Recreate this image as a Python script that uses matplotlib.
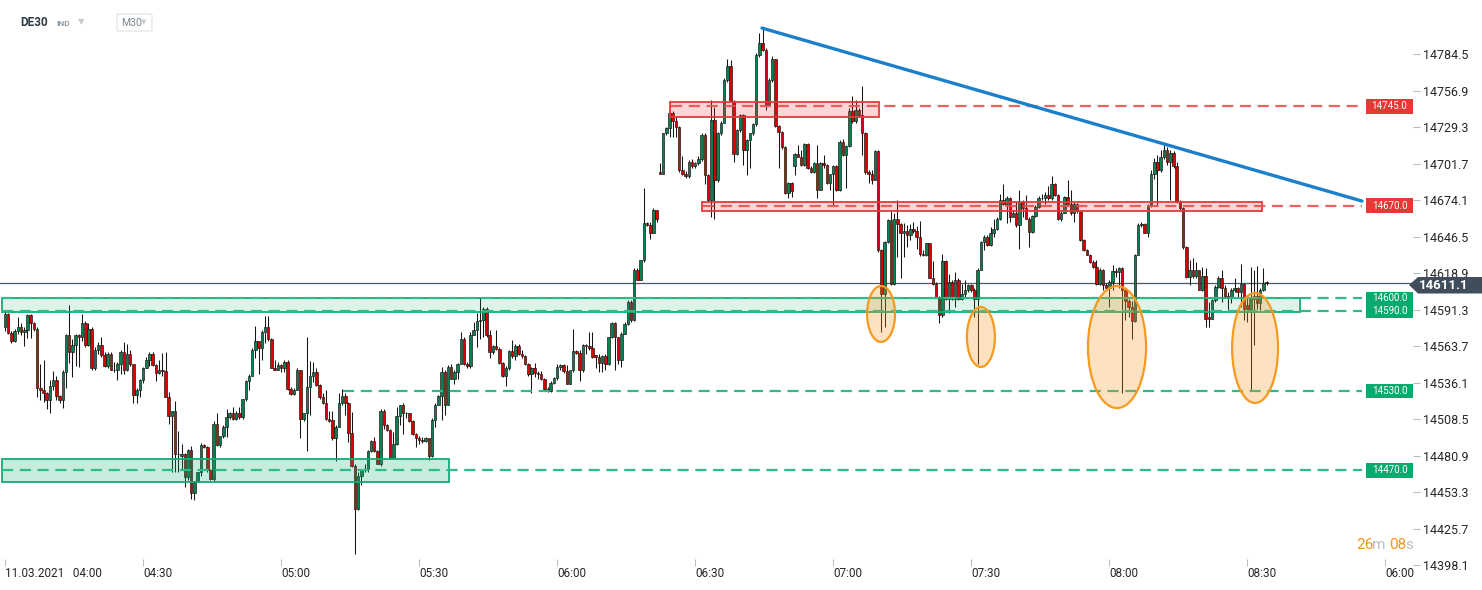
import matplotlib
matplotlib.use("Agg")
import matplotlib.pyplot as plt
import matplotlib.transforms as mtransforms
from matplotlib.patches import Rectangle, Ellipse, Polygon, FancyBboxPatch
import numpy as np

plt.rcParams['font.family'] = ['Roboto', 'DejaVu Sans']

# ---------------- data ----------------
opens = [
    14578, 14588, 14574, 14568, 14575, 14578, 14574.5, 14576, 14587, 14581,
    14577, 14532.5, 14530.5, 14528, 14523, 14533.5, 14538.5, 14526, 14523, 14544,
    14572.5, 14559.5, 14564.5, 14572.5, 14571, 14581.5, 14565, 14577, 14547.5, 14560.5,
    14565, 14557, 14548.5, 14557.5, 14546, 14545.5, 14550, 14559, 14546, 14557.5,
    14550, 14527, 14531, 14538, 14547.5, 14553, 14557.5, 14549.5, 14543.5, 14546,
    14545, 14525.5, 14511, 14514.5, 14482, 14481, 14482.5, 14465, 14485.5, 14453,
    14461.5, 14468.5, 14489, 14487.5, 14470, 14463.5, 14505, 14489, 14495.5, 14503,
    14510, 14513.5, 14509, 14513.5, 14510, 14523.5, 14537.5, 14541.5, 14560.5, 14567.5,
    14562, 14574.5, 14578, 14569.5, 14547.5, 14546, 14549.5, 14547, 14552, 14531.5,
    14527.5, 14531, 14545.5, 14509, 14513, 14533, 14541.5, 14544.5, 14534.5, 14525.5,
    14521, 14509, 14508, 14494, 14503, 14520.5, 14526, 14520.5, 14498, 14473.5,
    14441, 14466, 14470, 14471, 14484.5, 14492, 14484.5, 14475, 14515, 14504,
    14500.5, 14479, 14489.5, 14511, 14519, 14513.5, 14513, 14507, 14497.5, 14494,
    14493, 14492, 14494, 14480.5, 14508, 14519.5, 14526, 14544.5, 14519, 14548,
    14539, 14544.5, 14550, 14569.5, 14550, 14548.5, 14572.5, 14576, 14583, 14583.5,
    14592, 14572, 14559.5, 14564, 14561.5, 14551, 14541.5, 14547.5, 14560, 14556,
    14564, 14557.5, 14556, 14550, 14542.5, 14547, 14543.5, 14542.5, 14539, 14531.5,
    14530, 14536, 14540, 14548, 14549.5, 14545, 14535.5, 14545.5, 14560, 14558.5,
    14545.5, 14565, 14564, 14562.5, 14557, 14555.5, 14551, 14556, 14550, 14570.5,
    14581.5, 14570.5, 14553, 14573, 14580.5, 14597, 14583.5, 14621.5, 14614, 14628.5,
    14657, 14655.5, 14649.5, 14667, 14695.5, 14694, 14724.5, 14728.5, 14740, 14733.5,
    14729, 14697, 14693.5, 14692, 14703, 14699.5, 14702, 14705, 14723, 14693,
    14674, 14734.5, 14689.5, 14724.5, 14732.5, 14765, 14775.5, 14749, 14709, 14727,
    14738.5, 14712, 14719.5, 14724.5, 14731.5, 14783.5, 14792.5, 14787.5, 14746, 14765,
    14780.5, 14730, 14725.5, 14714, 14679.5, 14687, 14699.5, 14709, 14707, 14700.5,
    14716.5, 14698, 14695.5, 14702.5, 14682, 14702, 14700.5, 14687, 14693.5, 14700,
    14681.5, 14718, 14708, 14715, 14741.5, 14733.5, 14742.5, 14738.5, 14724.5, 14695.5,
    14693.5, 14689.5, 14711, 14636.5, 14603, 14642.5, 14659, 14611, 14659.5, 14656,
    14649, 14651, 14647.5, 14652, 14651, 14646.5, 14633.5, 14632.5, 14641.5, 14615.5,
    14611, 14601, 14587, 14628, 14599.5, 14612.5, 14599.5, 14613.5, 14599.5, 14603,
    14606, 14610, 14606, 14599.5, 14621.5, 14642.5, 14646.5, 14640, 14649, 14652.5,
    14660, 14674.5, 14671.5, 14675.5, 14661.5, 14664.5, 14655, 14673, 14668, 14660,
    14650, 14662, 14669, 14676, 14675.5, 14678, 14676, 14686, 14678, 14659.5,
    14664.5, 14676.5, 14671, 14664.5, 14671.5, 14665.5, 14644, 14636.5, 14633, 14627.5,
    14623.5, 14610.5, 14621.5, 14610, 14607.5, 14612.5, 14620.5, 14620, 14623, 14606,
    14598, 14593.5, 14583, 14633, 14655, 14656, 14649.5, 14670.5, 14693.5, 14703,
    14697, 14707, 14712, 14703, 14710, 14700, 14673, 14668.5, 14638.5, 14616,
    14621, 14616.5, 14621, 14606.5, 14616.5, 14585.5, 14584.5, 14598.5, 14608.5, 14615.5,
    14607.5, 14601.5, 14600.5, 14606, 14607.5, 14604.5, 14610.5, 14594.5, 14591.5, 14599.5,
    14601.5, 14596, 14606, 14612,
]
highs = [
    14590, 14589, 14575, 14577, 14586, 14581, 14578, 14588, 14588, 14582,
    14578, 14550, 14553.5, 14529, 14538, 14545, 14541, 14527, 14545.5, 14573,
    14595, 14569.5, 14573, 14573, 14588, 14583, 14581, 14578, 14563, 14567,
    14571, 14559, 14559, 14559.5, 14552, 14552, 14560.5, 14567, 14565.5, 14560.5,
    14550.5, 14532, 14539, 14548, 14555.5, 14559, 14559, 14550.5, 14553, 14558.5,
    14559, 14529, 14515, 14522.5, 14500, 14490, 14483, 14486, 14488.5, 14462,
    14469, 14490.5, 14490, 14488, 14471, 14507.5, 14513.5, 14496, 14504, 14516.5,
    14514, 14517.5, 14515, 14518, 14524, 14538.5, 14543, 14562.5, 14579, 14568,
    14576, 14586.5, 14586.5, 14570, 14553, 14552, 14550.5, 14553.5, 14553, 14533,
    14532, 14547, 14546, 14513.5, 14571, 14552.5, 14552, 14547, 14535.5, 14528,
    14531, 14514.5, 14515, 14504.5, 14528, 14531.5, 14528, 14521.5, 14514, 14474.5,
    14468.5, 14471, 14475, 14485.5, 14492.5, 14495, 14485, 14516.5, 14516, 14505,
    14501, 14499, 14518, 14519.5, 14520.5, 14514, 14513.5, 14508, 14498, 14496,
    14495, 14495, 14494.5, 14509.5, 14520.5, 14526.5, 14548, 14545.5, 14549.5, 14550,
    14545.5, 14551, 14574.5, 14571, 14552, 14574.5, 14582, 14589, 14600.5, 14593.5,
    14593, 14576, 14565, 14576, 14563, 14552, 14548.5, 14560.5, 14568.5, 14565.5,
    14565.5, 14560.5, 14557, 14551, 14548, 14551, 14545, 14545, 14540, 14533,
    14537.5, 14540.5, 14550.5, 14550.5, 14550.5, 14549.5, 14546, 14576.5, 14561, 14560.5,
    14565.5, 14565.5, 14574.5, 14574.5, 14557, 14558, 14557, 14558, 14571, 14582,
    14582, 14571, 14574.5, 14582, 14599, 14598.5, 14623, 14622.5, 14629, 14683,
    14657.5, 14657.5, 14668.5, 14667, 14702.5, 14725, 14729.5, 14742.5, 14741.5, 14737,
    14730, 14707.5, 14696, 14704.5, 14705, 14703, 14707.5, 14724.5, 14724.5, 14694,
    14749.5, 14744.5, 14725.5, 14733.5, 14766, 14781, 14780, 14750, 14727.5, 14739,
    14739.5, 14720.5, 14725, 14732, 14785, 14800.5, 14804, 14789, 14766, 14783,
    14781, 14731, 14726.5, 14715, 14688, 14688, 14709.5, 14715.5, 14712, 14717.5,
    14717, 14700, 14703, 14715.5, 14703, 14708, 14701.5, 14694, 14700.5, 14700.5,
    14719.5, 14720.5, 14715.5, 14743.5, 14752.5, 14749.5, 14744, 14760, 14725.5, 14697,
    14697, 14712, 14712, 14637.5, 14643, 14659.5, 14665.5, 14664.5, 14674.5, 14656.5,
    14657, 14655, 14656, 14657.5, 14654.5, 14658.5, 14636.5, 14642, 14642, 14628,
    14612, 14601.5, 14633.5, 14628.5, 14618.5, 14613.5, 14620, 14615, 14611, 14614,
    14611, 14611, 14608, 14622.5, 14643.5, 14647.5, 14647.5, 14654, 14660, 14661.5,
    14679, 14686, 14677, 14676.5, 14666.5, 14673, 14682, 14674, 14678, 14661,
    14662.5, 14670.5, 14677, 14678.5, 14680.5, 14684.5, 14692, 14687, 14679, 14666.5,
    14677, 14689.5, 14681.5, 14673, 14672, 14666, 14645, 14637.5, 14633.5, 14629,
    14628.5, 14622.5, 14622, 14611.5, 14613.5, 14625, 14623, 14623.5, 14623.5, 14607.5,
    14599.5, 14598, 14633.5, 14656.5, 14657.5, 14657, 14671.5, 14697, 14706, 14708,
    14712, 14717, 14714, 14712, 14711, 14703, 14674, 14669, 14639.5, 14628.5,
    14630, 14627.5, 14621.5, 14623.5, 14622.5, 14597, 14599.5, 14610, 14616.5, 14621,
    14610, 14604.5, 14607.5, 14615, 14608.5, 14626, 14611.5, 14601, 14623.5, 14621,
    14624, 14607.5, 14622.5, 14613,
]
lows = [
    14575, 14573, 14566, 14567, 14573, 14572, 14564, 14570, 14570, 14575,
    14525.5, 14523, 14521.5, 14516, 14513, 14530.5, 14523, 14521, 14517, 14532,
    14551, 14540.5, 14548.5, 14548, 14568, 14563, 14564, 14546, 14546, 14558,
    14555.5, 14548, 14547, 14545.5, 14544, 14538.5, 14543, 14542.5, 14545, 14549,
    14520.5, 14520.5, 14525, 14536, 14547, 14548.5, 14548.5, 14537.5, 14543, 14541,
    14525, 14505, 14468.5, 14468.5, 14468.5, 14470, 14457.5, 14462.5, 14448.5, 14447.5,
    14461, 14465.5, 14487, 14468.5, 14463, 14462, 14488.5, 14487.5, 14494.5, 14495,
    14509, 14508, 14508, 14509, 14509, 14522.5, 14530.5, 14541, 14554.5, 14543,
    14553, 14566, 14568, 14547, 14545.5, 14545.5, 14544, 14544, 14531, 14526.5,
    14526.5, 14530.5, 14494.5, 14507.5, 14484.5, 14512, 14536.5, 14534, 14523.5, 14520,
    14508, 14506.5, 14492.5, 14477, 14502.5, 14519, 14512, 14491.5, 14472.5, 14407,
    14440, 14458.5, 14469, 14469, 14484, 14484, 14474.5, 14473.5, 14501.5, 14500,
    14478.5, 14478.5, 14489, 14504, 14497.5, 14509.5, 14506.5, 14497, 14487.5, 14490,
    14490.5, 14491.5, 14477.5, 14480, 14503, 14519, 14508, 14511.5, 14519, 14539,
    14535, 14539, 14550, 14549.5, 14547.5, 14547, 14572, 14563, 14569.5, 14570.5,
    14571, 14554.5, 14558, 14561, 14550.5, 14540.5, 14534, 14546, 14555, 14553,
    14557, 14554.5, 14549.5, 14541.5, 14528.5, 14540.5, 14539, 14538.5, 14531, 14529,
    14529, 14535.5, 14538, 14545.5, 14543.5, 14535, 14535, 14544.5, 14558, 14537.5,
    14544.5, 14558, 14560.5, 14555, 14547, 14544.5, 14544.5, 14545.5, 14549.5, 14570,
    14545.5, 14550, 14548, 14573, 14579.5, 14582, 14583, 14613.5, 14613.5, 14627.5,
    14654.5, 14645, 14649, 14657.5, 14694, 14694, 14723, 14721.5, 14722, 14721.5,
    14695.5, 14693, 14690.5, 14690.5, 14698, 14698, 14701, 14704, 14686.5, 14672.5,
    14661.5, 14660, 14688, 14723, 14732, 14763.5, 14748.5, 14703, 14708, 14725.5,
    14700.5, 14693, 14698, 14723, 14730, 14782.5, 14786.5, 14742.5, 14745, 14763.5,
    14729.5, 14698, 14713, 14679, 14676, 14676.5, 14693, 14706.5, 14700, 14699.5,
    14697.5, 14694.5, 14694.5, 14675.5, 14681.5, 14698, 14686, 14681.5, 14670.5, 14681,
    14681, 14707.5, 14683, 14714, 14732.5, 14732, 14737, 14708, 14693.5, 14687,
    14686.5, 14689, 14635, 14574.5, 14578.5, 14641.5, 14610, 14610, 14631, 14615.5,
    14631, 14638.5, 14644, 14649, 14637.5, 14631.5, 14631.5, 14632, 14615, 14610,
    14600, 14581.5, 14586, 14599, 14588.5, 14598.5, 14593.5, 14599, 14598.5, 14601,
    14604.5, 14604.5, 14586, 14550.5, 14621, 14636.5, 14639.5, 14639.5, 14646.5, 14651.5,
    14659, 14670.5, 14656.5, 14657.5, 14661, 14654, 14637.5, 14661.5, 14659.5, 14638.5,
    14649.5, 14661.5, 14668, 14674, 14671.5, 14674.5, 14674, 14677, 14659, 14658,
    14664, 14670.5, 14662.5, 14657.5, 14664, 14643, 14635.5, 14632.5, 14626.5, 14623,
    14610, 14610, 14606, 14606, 14593.5, 14606, 14616, 14607.5, 14528, 14583.5,
    14586, 14569.5, 14582, 14632.5, 14654, 14649, 14646.5, 14669, 14690, 14670.5,
    14695, 14705, 14701, 14674, 14698, 14672, 14667, 14637.5, 14615.5, 14610,
    14615.5, 14615.5, 14606, 14605.5, 14578, 14578.5, 14584, 14597, 14607.5, 14597,
    14601, 14591, 14596, 14604.5, 14600.5, 14593.5, 14583.5, 14582, 14530.5, 14564.5,
    14592, 14591, 14605.5, 14610,
]
closes = [
    14588, 14574, 14568, 14575, 14578, 14574.5, 14576, 14587, 14581, 14577,
    14532.5, 14530.5, 14528, 14523, 14533.5, 14538.5, 14526, 14523, 14544, 14572.5,
    14559.5, 14564.5, 14572.5, 14571, 14581.5, 14565, 14577, 14547.5, 14560.5, 14565,
    14557, 14548.5, 14557.5, 14546, 14545.5, 14550, 14559, 14546, 14557.5, 14550,
    14527, 14531, 14538, 14547.5, 14553, 14557.5, 14549.5, 14543.5, 14546, 14545,
    14525.5, 14511, 14514.5, 14482, 14482.5, 14482.5, 14465, 14485.5, 14453, 14461.5,
    14468.5, 14489, 14487.5, 14470, 14463.5, 14505, 14489, 14495.5, 14503, 14510,
    14513.5, 14509, 14513.5, 14510, 14523.5, 14537.5, 14541.5, 14560.5, 14567.5, 14562,
    14574.5, 14578, 14569.5, 14547.5, 14546, 14549.5, 14547, 14552, 14531.5, 14527.5,
    14531, 14545.5, 14509, 14513, 14533, 14541.5, 14544.5, 14534.5, 14525.5, 14521,
    14509, 14507, 14494, 14503, 14520.5, 14526, 14520.5, 14498, 14473.5, 14441,
    14466, 14470.5, 14471, 14484.5, 14492, 14484.5, 14475, 14515, 14504, 14500.5,
    14479, 14489.5, 14511, 14519, 14513.5, 14513, 14507, 14497.5, 14494, 14493,
    14492, 14494, 14480.5, 14508, 14519.5, 14526, 14544.5, 14519, 14548, 14539,
    14544.5, 14550, 14569.5, 14550, 14548.5, 14572.5, 14576, 14583, 14583.5, 14592,
    14572, 14559.5, 14564, 14561.5, 14551, 14541.5, 14547.5, 14560, 14556, 14564,
    14557.5, 14556, 14550, 14542.5, 14547, 14543.5, 14542.5, 14539, 14531.5, 14530,
    14536, 14540, 14548, 14549.5, 14545, 14535.5, 14545.5, 14560, 14558.5, 14545.5,
    14565, 14564, 14562.5, 14555.5, 14555.5, 14551, 14556, 14550, 14570.5, 14581.5,
    14570.5, 14553, 14573, 14580.5, 14597, 14583.5, 14621.5, 14614, 14628.5, 14657,
    14655.5, 14649.5, 14667, 14660, 14694, 14724.5, 14728.5, 14740, 14733.5, 14729,
    14697, 14693.5, 14692, 14703, 14699.5, 14702, 14705, 14723, 14693, 14674,
    14734.5, 14689.5, 14724.5, 14732.5, 14765, 14775.5, 14749, 14709, 14727, 14738.5,
    14712, 14719.5, 14724.5, 14731.5, 14783.5, 14792.5, 14787.5, 14746, 14765, 14780.5,
    14730, 14725.5, 14714, 14679.5, 14687, 14681, 14709, 14707, 14700.5, 14716.5,
    14698, 14695.5, 14702.5, 14682, 14702, 14700.5, 14687, 14693.5, 14700, 14681.5,
    14718, 14708, 14715, 14741.5, 14733.5, 14742.5, 14738.5, 14724.5, 14695.5, 14693.5,
    14689.5, 14711, 14636.5, 14603, 14642.5, 14659, 14611, 14659.5, 14656, 14649,
    14651, 14647.5, 14652, 14651, 14646.5, 14633.5, 14632.5, 14641.5, 14615.5, 14611,
    14601, 14587, 14628, 14599.5, 14612.5, 14599.5, 14613.5, 14599.5, 14603, 14606,
    14610, 14606, 14599.5, 14621.5, 14642.5, 14646.5, 14640, 14649, 14652.5, 14660,
    14674.5, 14671.5, 14675.5, 14661.5, 14664.5, 14655, 14673, 14668, 14660, 14650,
    14662, 14669, 14676, 14675.5, 14678, 14676, 14686, 14678, 14659.5, 14664.5,
    14676.5, 14671, 14664.5, 14671.5, 14665.5, 14644, 14636.5, 14633, 14627.5, 14623.5,
    14610.5, 14621.5, 14610, 14607.5, 14612.5, 14620.5, 14620, 14623, 14606, 14598,
    14593.5, 14583, 14633, 14655, 14656, 14649.5, 14670.5, 14693.5, 14703, 14697,
    14707, 14712, 14703, 14710, 14700, 14673, 14668.5, 14638.5, 14616, 14621,
    14616.5, 14621, 14606.5, 14616.5, 14584.5, 14584.5, 14598.5, 14608.5, 14615.5, 14607.5,
    14601.5, 14600.5, 14606, 14607.5, 14604.5, 14610.5, 14591.5, 14591.5, 14599.5, 14601.5,
    14596, 14606, 14611.5, 14611.1,
]
assert len(opens) == len(highs) == len(lows) == len(closes)

time_labels = ['11.03.2021   04:00', '04:30', '05:00', '05:30', '06:00', '06:30',
               '07:00', '07:30', '08:00', '08:30', '06:00']
candles_per_label = 43
price_ticks = [14784.5, 14756.9, 14729.3, 14701.7, 14674.1, 14646.5, 14618.9, 14591.3,
               14563.7, 14536.1, 14508.5, 14480.9, 14453.3, 14425.7, 14398.1]
resistance_levels = [14745.0, 14670.0]
support_levels = [14600.0, 14590.0, 14530.0, 14470.0]
last_price = 14611.1
trend_prices = [14804.1, 14673.4]
countdown = ['26', 'm', '08', 's']

# ---------------- figure ----------------
W, H = 1482, 590
fig = plt.figure(figsize=(W / 100, H / 100), dpi=100)
ax = fig.add_axes([0, 24 / H, 1413 / W, 566 / H])
ax.set_xlim(-1.56, 438.6)
ax.set_ylim(14397.65, 14825.3)
for s in ax.spines.values():
    s.set_visible(False)

o = np.array(opens, float); h = np.array(highs, float)
l = np.array(lows, float); c = np.array(closes, float)
x = np.arange(len(o))
up = c >= o

ax.axhline(last_price, color='#4b5965', lw=0.9, zorder=1)
ax.vlines(x, np.minimum(l, np.minimum(o, c)), np.maximum(h, np.maximum(o, c)),
          color='#161616', lw=0.75, zorder=2)
ax.bar(x, c - o, bottom=o, width=0.78,
       color=['#0b7f4f' if u else '#d60000' for u in up],
       edgecolor='#101010', linewidth=0.45, zorder=3)

green = '#12ab74'
green_dash = '#2dbb88'
red = '#e23b3b'
dash = (0, (5, 3))
line_end = 422.7

# green support zones
ax.add_patch(Rectangle((-0.9, 14589.5), 404.3, 11.0, facecolor=(0.08, 0.70, 0.47, 0.14),
                       edgecolor=green, lw=1.3, zorder=4))
ax.add_patch(Rectangle((-0.9, 14461.1), 139.2, 17.4, facecolor=(0.08, 0.70, 0.47, 0.24),
                       edgecolor=green, lw=1.3, zorder=4))
support_starts = [-0.9, -0.9, 105.3, -0.9]
for lvl, st in zip(support_levels, support_starts):
    ax.hlines(lvl, st, line_end, colors=green_dash, lw=1.6, linestyles=dash, zorder=5)

# red resistance zones
ax.add_patch(Rectangle((207.0, 14737.1), 65.2, 10.9, facecolor=(0.90, 0.22, 0.21, 0.2),
                       edgecolor=red, lw=1.3, zorder=4))
ax.add_patch(Rectangle((217.2, 14666.1), 174.3, 6.8, facecolor=(0.90, 0.22, 0.21, 0.2),
                       edgecolor=red, lw=1.3, zorder=4))
for lvl, st in zip(resistance_levels, [207.5, 217.5]):
    ax.hlines(lvl, st, line_end, colors='#e8504f', lw=1.6, linestyles=dash, zorder=5, alpha=0.9)

# orange highlight ellipses
ellipses = [(272.9, 14588.1, 8.7, 42.3), (304.0, 14570.7, 8.7, 45.3),
            (346.4, 14563.1, 18.1, 92.2), (389.4, 14562.4, 14.3, 83.1)]
for cx, cy, ew, eh in ellipses:
    ax.add_patch(Ellipse((cx, cy), ew, eh, facecolor=(0.97, 0.60, 0.13, 0.28),
                         edgecolor='#f59a1f', lw=1.6, zorder=6))

# trend line
ax.plot([235.8, line_end], trend_prices, color='#1c7fc9', lw=2.4, zorder=7,
        solid_capstyle='round')

# right-hand level labels
bt = mtransforms.blended_transform_factory(ax.transAxes, ax.transData)
lx0, lwid = 1366 / 1413, 47 / 1413


def level_label(price, color, hgt=11.0):
    ax.add_patch(Rectangle((lx0, price - hgt / 2), lwid, hgt, transform=bt, facecolor=color,
                           edgecolor='none', zorder=8, clip_on=False))
    ax.text(lx0 + lwid / 2, price, f'{price:.1f}', transform=bt, ha='center', va='center',
            color='white', fontsize=7, zorder=9)


for lvl in resistance_levels:
    level_label(lvl, '#e53935')
level_label(support_levels[0], '#0aaa6e', 10.0)
level_label(support_levels[1], '#0aaa6e', 10.0)
level_label(support_levels[2], '#0aaa6e')
level_label(support_levels[3], '#0aaa6e')

# axes ticks
ax.set_yticks(price_ticks)
ax.set_yticklabels([f'{v:.1f}' for v in price_ticks])
ax.yaxis.tick_right()
ax.tick_params(axis='y', direction='out', length=5, width=0.8, color='#b5bdc5',
               labelsize=9, labelcolor='#262626', pad=2)
ax.set_xticks([candles_per_label * k for k in range(len(time_labels))])
ax.set_xticklabels(time_labels, ha='left')
ax.tick_params(axis='x', direction='in', length=5, width=0.8, color='#b5bdc5',
               labelsize=8.5, labelcolor='#262626', pad=1)


def fx(px):
    return px / W


def fy(py):
    return 1 - py / H


# header
fig.text(fx(20), fy(22), 'DE30', fontsize=8.5, fontweight='bold', color='#2e3a44', va='center')
fig.text(fx(56), fy(23), 'IND', fontsize=6, fontweight='bold', color='#8e9ba6', va='center')
fig.text(fx(78), fy(21.5), '▼', fontsize=6, color='#c6ccd2', va='center', family='DejaVu Sans')
fig.add_artist(FancyBboxPatch((fx(117), fy(31)), fx(35), 17 / H,
                              boxstyle='round,pad=0,rounding_size=0.002',
                              transform=fig.transFigure, facecolor='white',
                              edgecolor='#dde1e5', lw=0.8))
fig.text(fx(121), fy(22.5), 'M30', fontsize=7.5, color='#7b858e', va='center')
fig.text(fx(140.5), fy(22), '▼', fontsize=5, color='#c6ccd2', va='center', family='DejaVu Sans')

# countdown
cd_x = [1356, 1372, 1389, 1405.5]
cd_col = ['#f7931e', '#b9c0c7', '#f7931e', '#b9c0c7']
for txt, px, col in zip(countdown, cd_x, cd_col):
    fig.text(fx(px), fy(545), txt, fontsize=11, color=col, va='center')

# last price tag
fig.add_artist(Polygon([(fx(1409), fy(285)), (fx(1418), fy(277)), (fx(1482), fy(277)),
                        (fx(1482), fy(293.5)), (fx(1418), fy(293.5))], closed=True,
                       transform=fig.transFigure, facecolor='#3f4e5a', edgecolor='none',
                       zorder=10))
fig.text(fx(1444), fy(285.8), f'{last_price:.1f}', fontsize=9.5, fontweight='bold',
         color='white', ha='center', va='center', zorder=11)

fig.savefig('out.png', dpi=100)
